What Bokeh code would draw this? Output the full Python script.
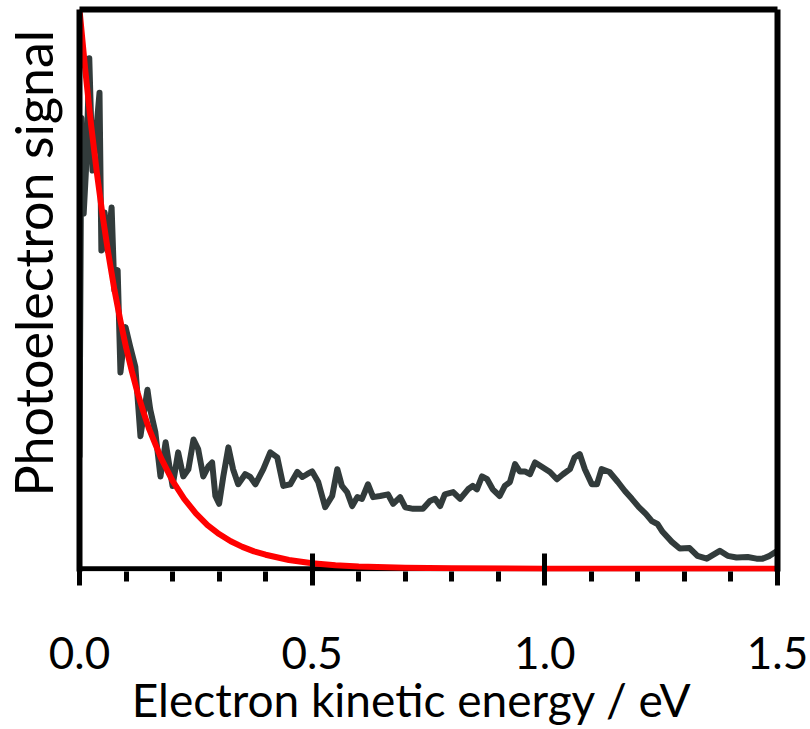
from bokeh.plotting import figure
from bokeh.models import Range1d, FixedTicker, LinearAxis, Span, Title
from bokeh.embed import file_html
from bokeh.resources import INLINE

# Measured photoelectron spectrum (kinetic energy in eV, signal in arb. units)
energy = [0.000, 0.004, 0.009, 0.015, 0.021, 0.028, 0.034, 0.043, 0.047, 0.054,
          0.060, 0.069, 0.075, 0.082, 0.088, 0.099, 0.109, 0.120, 0.131, 0.146,
          0.152, 0.163, 0.174, 0.185, 0.200, 0.212, 0.223, 0.234, 0.245, 0.255,
          0.266, 0.277, 0.285, 0.292, 0.300, 0.309, 0.320, 0.330, 0.341, 0.356,
          0.367, 0.378, 0.395, 0.410, 0.425, 0.438, 0.453, 0.468, 0.479, 0.489,
          0.500, 0.513, 0.528, 0.543, 0.554, 0.564, 0.575, 0.586, 0.597, 0.607,
          0.620, 0.631, 0.646, 0.663, 0.674, 0.689, 0.700, 0.717, 0.738, 0.753,
          0.764, 0.775, 0.785, 0.803, 0.818, 0.835, 0.845, 0.854, 0.865, 0.876,
          0.888, 0.903, 0.914, 0.925, 0.936, 0.946, 0.957, 0.968, 0.979, 0.996,
          1.011, 1.026, 1.039, 1.054, 1.064, 1.075, 1.086, 1.101, 1.112, 1.122,
          1.139, 1.157, 1.172, 1.187, 1.202, 1.217, 1.230, 1.242, 1.253, 1.273,
          1.290, 1.311, 1.328, 1.348, 1.376, 1.393, 1.412, 1.436, 1.455, 1.468,
          1.483, 1.500]
signal = [20.1, 80.6, 63.5, 73.0, 91.3, 71.2, 76.5, 85.1, 56.9, 63.7,
          56.9, 64.6, 49.8, 53.4, 35.1, 43.2, 39.7, 36.1, 23.7, 32.0,
          28.5, 24.4, 16.5, 22.6, 14.8, 20.8, 16.5, 17.8, 23.1, 21.4,
          16.5, 18.3, 19.0, 13.0, 11.6, 16.5, 21.7, 17.8, 15.1, 16.9,
          16.4, 15.1, 17.8, 20.8, 19.9, 14.8, 15.1, 17.3, 16.4, 16.9,
          17.4, 15.5, 11.0, 13.0, 17.8, 14.8, 13.7, 11.2, 12.8, 12.5,
          15.1, 12.8, 13.0, 13.3, 11.6, 12.8, 11.0, 10.7, 10.7, 12.1,
          12.5, 11.2, 13.3, 13.7, 12.5, 14.2, 14.8, 14.2, 16.5, 16.0,
          14.2, 13.0, 14.8, 15.5, 18.7, 17.4, 17.4, 16.9, 19.0, 18.1,
          17.3, 16.0, 16.9, 17.8, 19.9, 20.5, 17.8, 15.1, 15.1, 17.8,
          17.3, 15.5, 13.9, 12.5, 11.0, 9.8, 8.5, 8.0, 6.6, 4.8,
          3.6, 3.7, 2.3, 1.8, 3.2, 2.3, 2.0, 2.1, 1.8, 1.8,
          2.3, 3.2]

# Decaying component (red curve)
fit_energy = [0.0, 0.0125, 0.025, 0.0375, 0.05, 0.0625, 0.075, 0.0875, 0.1,
              0.1125, 0.125, 0.1375, 0.15, 0.175, 0.2, 0.225, 0.25, 0.275,
              0.3, 0.325, 0.35, 0.375, 0.4, 0.45, 0.5, 0.55, 0.6, 0.7, 0.8,
              1.0, 1.25, 1.5]
fit_signal = [100.0, 89.1, 79.3, 70.7, 62.9, 56.1, 49.9, 44.5, 39.6,
              35.3, 31.4, 28.0, 24.9, 19.8, 15.7, 12.5, 9.9, 7.8,
              6.2, 4.9, 3.9, 3.1, 2.5, 1.55, 0.98, 0.61, 0.39, 0.15, 0.06,
              0.01, 0.0, 0.0]

major_ticks = [0.0, 0.5, 1.0, 1.5]
minor_ticks = [0.1, 0.2, 0.3, 0.4, 0.6, 0.7, 0.8, 0.9, 1.1, 1.2, 1.3, 1.4]
tick_labels = {0.0: "0.0", 0.5: "0.5", 1.0: "1.0", 1.5: "1.5"}

NBSP = "\u00a0"
x_title = "Electron kinetic energy / eV" + NBSP * 3
y_title = "Photoelectron signal"

FONT = "Lato"
BLACK = "#000000"
SPINE = 6

p = figure(width=810, height=729, output_backend="svg", toolbar_location=None,
           x_range=Range1d(0, 1.5), y_range=Range1d(-0.5, 100),
           min_border_left=79, min_border_right=33,
           min_border_top=9, min_border_bottom=157)
p.title.visible = False
p.background_fill_color = "white"
p.border_fill_color = "white"
p.outline_line_color = None
p.xgrid.visible = False
p.ygrid.visible = False

# bottom axis: ticks, tick labels and title; the baseline is drawn as a span
xa = p.xaxis[0]
xa.ticker = FixedTicker(ticks=major_ticks, minor_ticks=minor_ticks)
xa.major_label_overrides = tick_labels
xa.axis_line_color = None
xa.major_tick_line_color = BLACK
xa.major_tick_line_width = 5
xa.major_tick_in = 18
xa.major_tick_out = 14
xa.minor_tick_line_color = BLACK
xa.minor_tick_line_width = 5
xa.minor_tick_in = 0
xa.minor_tick_out = 10
xa.major_label_standoff = 51
xa.major_label_text_font = FONT
xa.major_label_text_font_size = "44px"
xa.major_label_text_color = BLACK
xa.axis_label = x_title
xa.axis_label_standoff = 0
xa.axis_label_text_font = FONT
xa.axis_label_text_font_size = "46px"
xa.axis_label_text_font_style = "normal"
xa.axis_label_text_color = BLACK

# left spine; one hidden, unlabelled tick reserves room next to the frame
ya = p.yaxis[0]
ya.ticker = FixedTicker(ticks=[50])
ya.major_label_overrides = {50: ""}
ya.axis_line_color = BLACK
ya.axis_line_width = SPINE
ya.major_tick_line_color = None
ya.minor_tick_line_color = None
ya.major_tick_in = 0
ya.major_tick_out = 32
ya.minor_tick_out = 0
ya.major_label_standoff = 0

# signal title, placed beside the left spine
p.add_layout(Title(text=y_title, align="left", offset=75,
                   vertical_align="top", standoff=-36,
                   text_font=FONT, text_font_size="52px",
                   text_font_style="normal", text_color=BLACK), "left")

# top and right spines
for side in ("above", "right"):
    spine = LinearAxis(ticker=FixedTicker(ticks=[]), axis_line_color=BLACK,
                       axis_line_width=SPINE, major_tick_line_color=None,
                       minor_tick_line_color=None, major_tick_out=0,
                       minor_tick_out=0, major_label_standoff=0)
    p.add_layout(spine, side)

baseline = Span(location=0, dimension="width", line_color=BLACK,
                line_width=5, level="underlay")
p.add_layout(baseline)

p.line(energy, signal, line_color="#323b3b", line_width=6,
       line_join="round", line_cap="round")
p.line(fit_energy, fit_signal, line_color="#ff0000", line_width=6,
       line_join="round", line_cap="round")

open("out.html", "w").write(file_html(p, INLINE))
